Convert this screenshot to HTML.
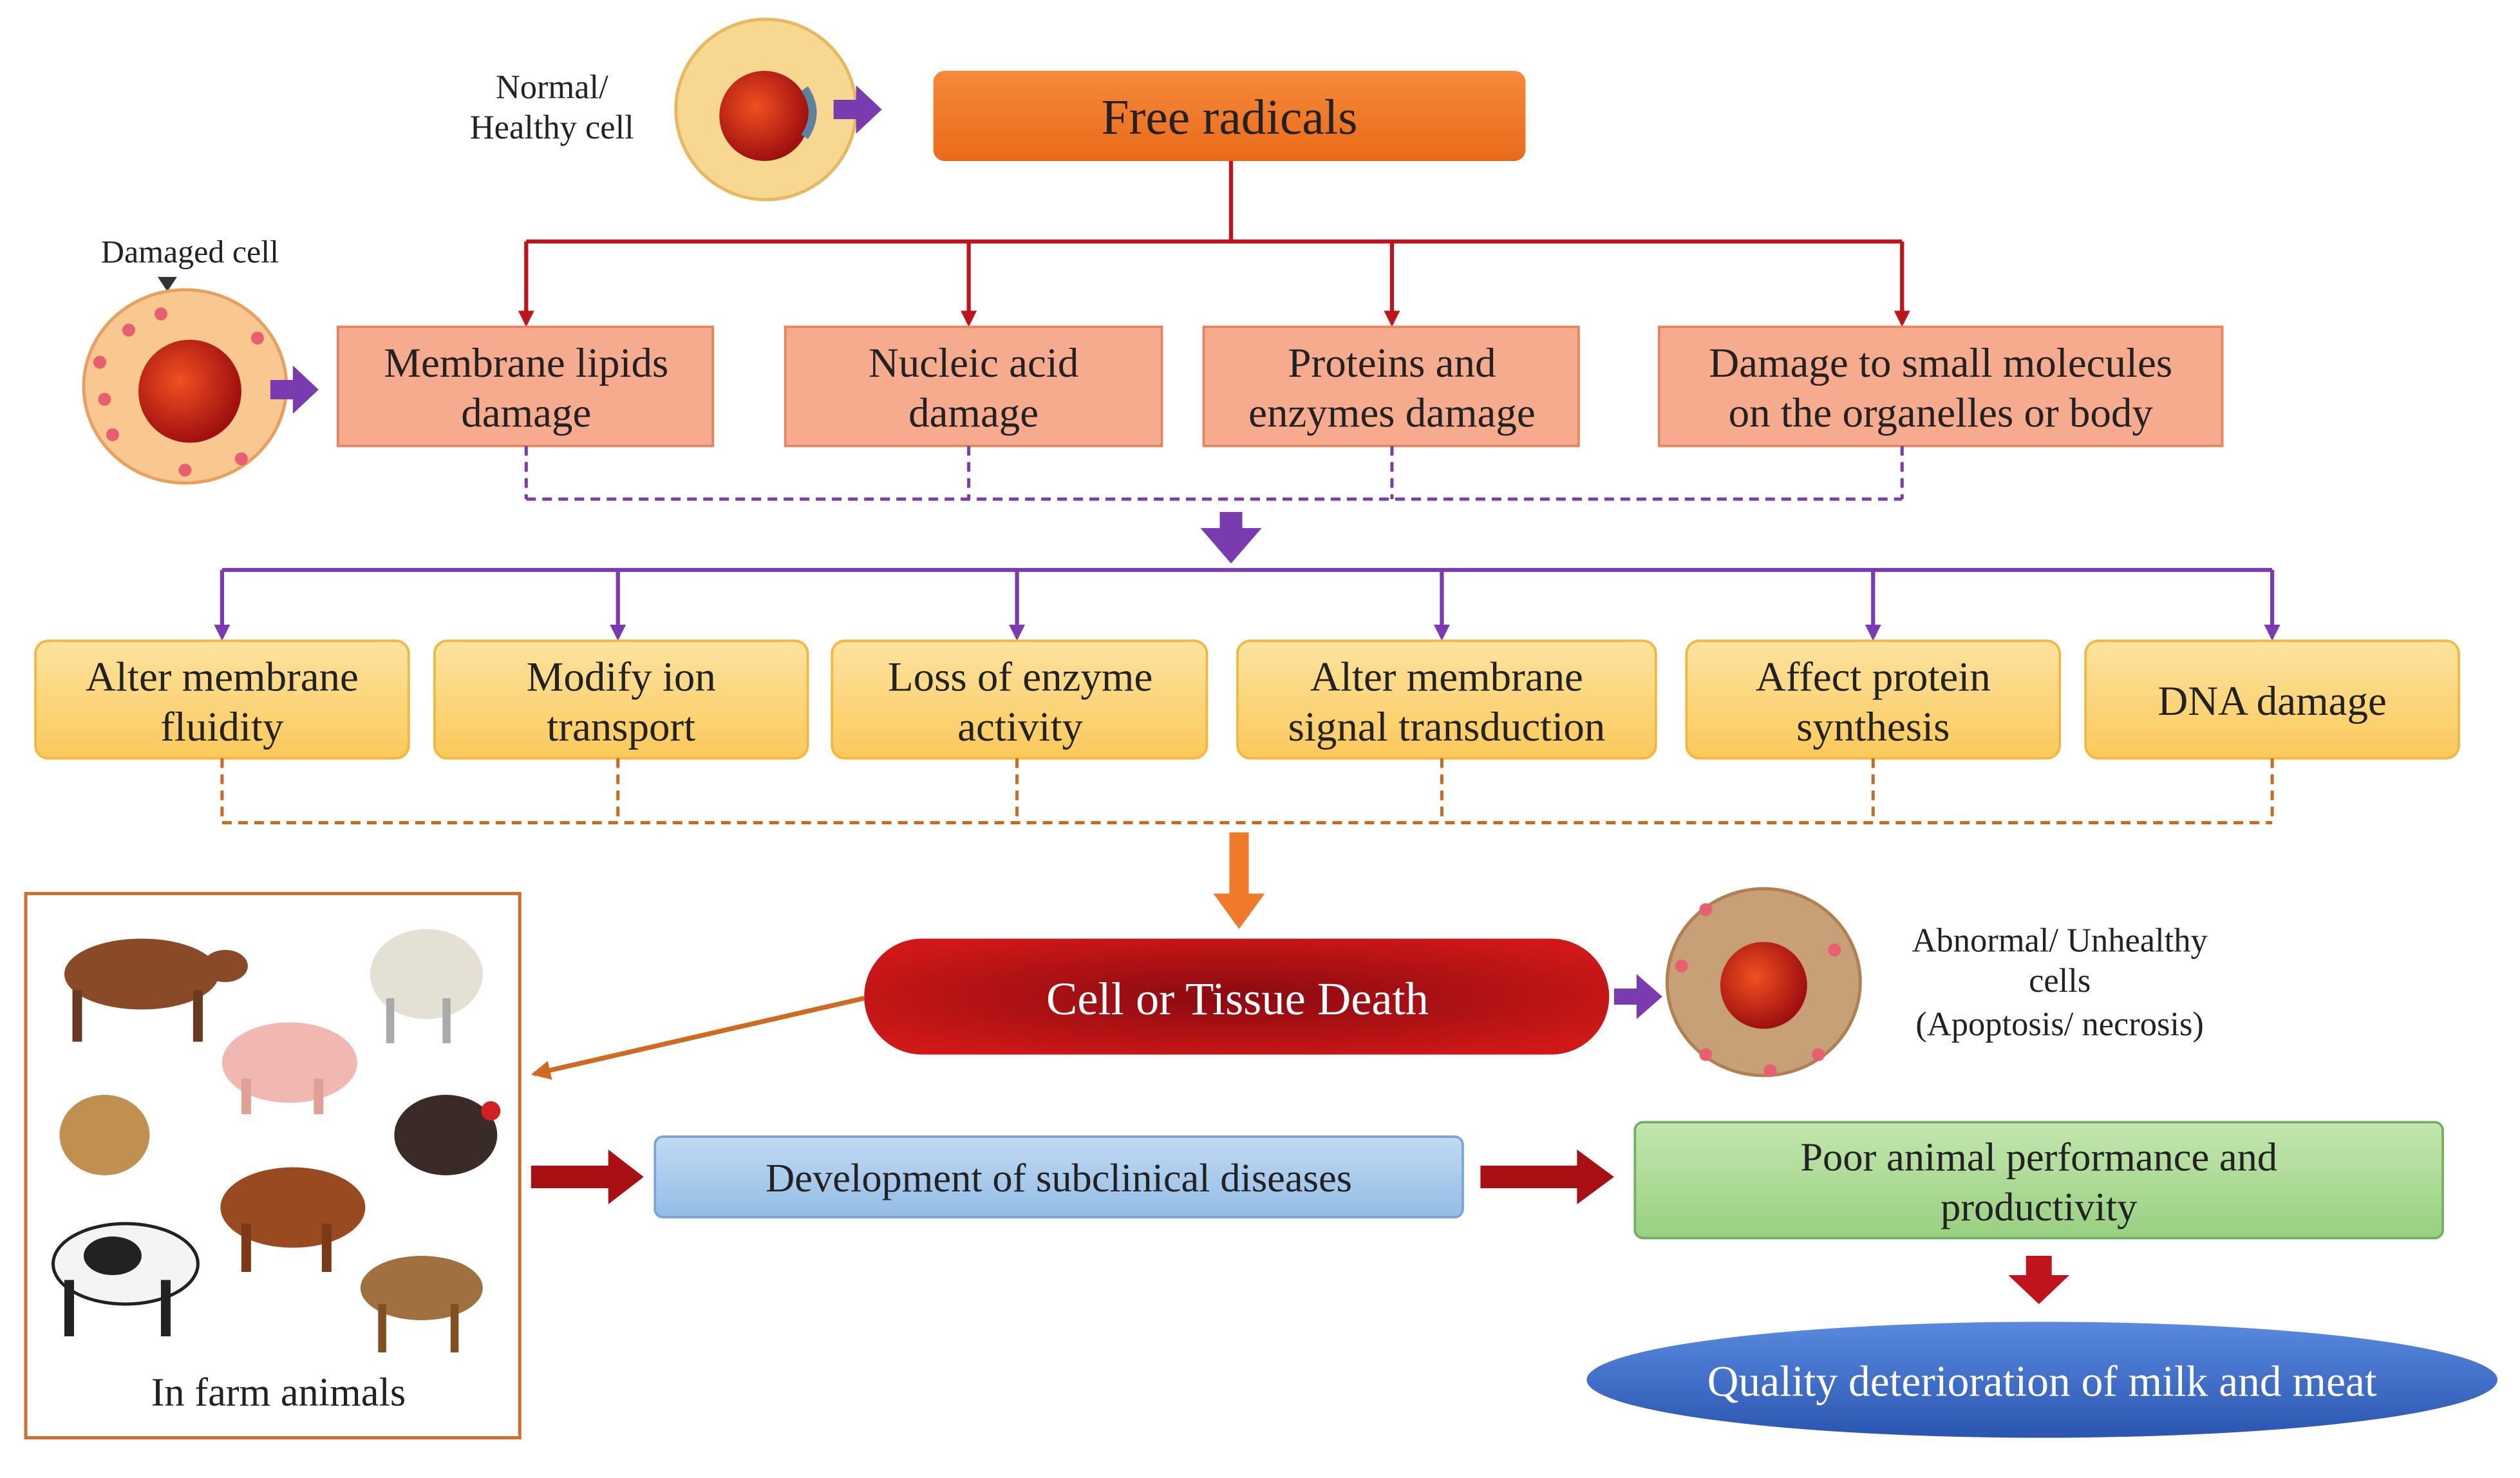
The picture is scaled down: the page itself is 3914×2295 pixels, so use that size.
<!DOCTYPE html>
<html><head><meta charset="utf-8"><style>
html,body{margin:0;padding:0;background:#fff;}
svg{display:block;}
text{font-family:"Liberation Serif",serif;fill:#222;}
</style></head><body>
<svg width="3914" height="2295" viewBox="0 0 1566 918" preserveAspectRatio="none" xmlns="http://www.w3.org/2000/svg">
<defs>
<linearGradient id="og" x1="0" y1="0" x2="0" y2="1"><stop offset="0" stop-color="#f58a3a"/><stop offset="1" stop-color="#ea6a1a"/></linearGradient>
<linearGradient id="yg" x1="0" y1="0" x2="0" y2="1"><stop offset="0" stop-color="#fde3a0"/><stop offset="1" stop-color="#fbc95a"/></linearGradient>
<radialGradient id="rg" cx="0.5" cy="0.5" r="0.6"><stop offset="0" stop-color="#8a0a10"/><stop offset="1" stop-color="#d01818"/></radialGradient>
<linearGradient id="bg" x1="0" y1="0" x2="0" y2="1"><stop offset="0" stop-color="#5a8ae0"/><stop offset="1" stop-color="#2a55b0"/></linearGradient>
<linearGradient id="gg" x1="0" y1="0" x2="0" y2="1"><stop offset="0" stop-color="#c4e6b0"/><stop offset="1" stop-color="#98d080"/></linearGradient>
<linearGradient id="blg" x1="0" y1="0" x2="0" y2="1"><stop offset="0" stop-color="#c2daf2"/><stop offset="1" stop-color="#94bce6"/></linearGradient>
<radialGradient id="nuc" cx="0.4" cy="0.4" r="0.6"><stop offset="0" stop-color="#f05020"/><stop offset="1" stop-color="#a01010"/></radialGradient>
<marker id="ar" markerWidth="10" markerHeight="10" refX="8" refY="5" orient="auto" markerUnits="userSpaceOnUse"><path d="M0,0 L10,5 L0,10 z" fill="#c0141c"/></marker>
<marker id="ap" markerWidth="10" markerHeight="10" refX="8" refY="5" orient="auto" markerUnits="userSpaceOnUse"><path d="M0,0 L10,5 L0,10 z" fill="#7a3ab0"/></marker>
<marker id="ao" markerWidth="12" markerHeight="12" refX="10" refY="6" orient="auto" markerUnits="userSpaceOnUse"><path d="M0,0 L12,6 L0,12 z" fill="#d06a20"/></marker>
</defs>

<text x="343" y="61" font-size="21" text-anchor="middle">Normal/</text>
<text x="343" y="86" font-size="21" text-anchor="middle">Healthy cell</text>
<ellipse cx="476" cy="68" rx="56" ry="56" fill="#f8d890" stroke="#e8b860" stroke-width="2"/>
<circle cx="475" cy="72" r="28" fill="url(#nuc)"/>
<path d="M500,55 q10,15 0,30" stroke="#6080a0" stroke-width="5" fill="none"/>
<path d="M518,62 h14 v-9 l16,15 l-16,15 v-9 h-14z" fill="#7a3ab0"/>

<rect x="580" y="44" width="368" height="56" rx="7" fill="url(#og)"/>
<text x="764" y="83" font-size="31" text-anchor="middle">Free radicals</text>
<g stroke="#c0141c" stroke-width="2.5" fill="none">
<path d="M765,100 V150"/><path d="M327,150 H1182"/>
<path d="M327,150 V201" marker-end="url(#ar)"/><path d="M602,150 V201" marker-end="url(#ar)"/>
<path d="M865,150 V201" marker-end="url(#ar)"/><path d="M1182,150 V201" marker-end="url(#ar)"/>
</g>

<text x="118" y="163" font-size="20" text-anchor="middle">Damaged cell</text>
<path d="M98,172 h12 l-6,9z" fill="#333"/>
<ellipse cx="115" cy="240" rx="63" ry="60" fill="#f8c890" stroke="#e8a060" stroke-width="2"/>
<circle cx="118" cy="243" r="32" fill="url(#nuc)"/>
<g fill="#e86070"><circle cx="62" cy="225" r="4"/><circle cx="70" cy="270" r="4"/><circle cx="100" cy="195" r="4"/><circle cx="160" cy="210" r="4"/><circle cx="150" cy="285" r="4"/><circle cx="115" cy="292" r="4"/><circle cx="80" cy="205" r="4"/><circle cx="65" cy="248" r="4"/></g>
<path d="M168,236 h14 v-9 l16,15 l-16,15 v-9 h-14z" fill="#7a3ab0"/>

<g fill="#f6ab8e" stroke="#e8845c" stroke-width="1.5">
<rect x="210" y="203" width="233" height="74"/><rect x="488" y="203" width="234" height="74"/>
<rect x="748" y="203" width="233" height="74"/><rect x="1031" y="203" width="350" height="74"/>
</g>
<g font-size="26" text-anchor="middle">
<text x="327" y="234">Membrane lipids</text><text x="327" y="265">damage</text>
<text x="605" y="234">Nucleic acid</text><text x="605" y="265">damage</text>
<text x="865" y="234">Proteins and</text><text x="865" y="265">enzymes damage</text>
<text x="1206" y="234">Damage to small molecules</text><text x="1206" y="265">on the organelles or body</text>
</g>
<g stroke="#7a3ab0" stroke-width="2" stroke-dasharray="6,4" fill="none">
<path d="M327,277 V310 M602,277 V310 M865,277 V310 M1182,277 V310 M327,310 H1182"/>
</g>
<path d="M758,318 h14 v10 h12 l-19,22 l-19,-22 h12z" fill="#7a3ab0"/>

<g stroke="#7a3ab0" stroke-width="2.5" fill="none">
<path d="M138,354 H1412"/>
<path d="M138,354 V396" marker-end="url(#ap)"/><path d="M384,354 V396" marker-end="url(#ap)"/>
<path d="M632,354 V396" marker-end="url(#ap)"/><path d="M896,354 V396" marker-end="url(#ap)"/>
<path d="M1164,354 V396" marker-end="url(#ap)"/><path d="M1412,354 V396" marker-end="url(#ap)"/>
</g>

<g fill="url(#yg)" stroke="#f0b840" stroke-width="1.5">
<rect x="22" y="398" width="232" height="73" rx="8"/><rect x="270" y="398" width="232" height="73" rx="8"/>
<rect x="517" y="398" width="233" height="73" rx="8"/><rect x="769" y="398" width="260" height="73" rx="8"/>
<rect x="1048" y="398" width="232" height="73" rx="8"/><rect x="1296" y="398" width="232" height="73" rx="8"/>
</g>
<g font-size="26" text-anchor="middle">
<text x="138" y="429">Alter membrane</text><text x="138" y="460">fluidity</text>
<text x="386" y="429">Modify ion</text><text x="386" y="460">transport</text>
<text x="634" y="429">Loss of enzyme</text><text x="634" y="460">activity</text>
<text x="899" y="429">Alter membrane</text><text x="899" y="460">signal transduction</text>
<text x="1164" y="429">Affect protein</text><text x="1164" y="460">synthesis</text>
<text x="1412" y="444">DNA damage</text>
</g>
<g stroke="#c86a20" stroke-width="2" stroke-dasharray="6,4" fill="none">
<path d="M138,471 V511 M384,471 V511 M632,471 V511 M896,471 V511 M1164,471 V511 M1412,471 V511 M138,511 H1412"/>
</g>
<path d="M764,517 h12 v38 h10 l-16,22 l-16,-22 h10z" fill="#f07a2a"/>

<rect x="537" y="583" width="463" height="72" rx="36" fill="url(#rg)"/>
<text x="769" y="630" font-size="29" text-anchor="middle" style="fill:#fff">Cell or Tissue Death</text>
<path d="M1003,614 h14 v-9 l16,14 l-16,14 v-9 h-14z" fill="#7a3ab0"/>
<ellipse cx="1096" cy="610" rx="60" ry="58" fill="#c8a078" stroke="#b08050" stroke-width="2"/>
<circle cx="1096" cy="612" r="27" fill="url(#nuc)"/>
<g fill="#e86070"><circle cx="1045" cy="600" r="4"/><circle cx="1060" cy="565" r="4"/><circle cx="1140" cy="590" r="4"/><circle cx="1130" cy="655" r="4"/><circle cx="1060" cy="655" r="4"/><circle cx="1100" cy="665" r="4"/></g>
<g font-size="21" text-anchor="middle">
<text x="1280" y="591">Abnormal/ Unhealthy</text><text x="1280" y="616">cells</text><text x="1280" y="643">(Apoptosis/ necrosis)</text>
</g>
<path d="M537,620 L332,667" stroke="#d06a20" stroke-width="3" marker-end="url(#ao)"/>

<rect x="16" y="555" width="307" height="338" fill="#fff" stroke="#d07030" stroke-width="2"/>
<g>
<ellipse cx="88" cy="605" rx="48" ry="22" fill="#8a4a28"/><rect x="45" y="615" width="6" height="32" fill="#6a3a20"/><rect x="120" y="615" width="6" height="32" fill="#6a3a20"/><ellipse cx="140" cy="600" rx="14" ry="10" fill="#8a4a28"/>
<ellipse cx="265" cy="605" rx="35" ry="28" fill="#e4e0d4"/><rect x="240" y="620" width="5" height="28" fill="#aaa"/><rect x="275" y="620" width="5" height="28" fill="#aaa"/>
<ellipse cx="180" cy="660" rx="42" ry="25" fill="#f0b8b0"/><rect x="150" y="670" width="6" height="22" fill="#e0a098"/><rect x="195" y="670" width="6" height="22" fill="#e0a098"/>
<ellipse cx="65" cy="705" rx="28" ry="25" fill="#c09050"/>
<ellipse cx="277" cy="705" rx="32" ry="25" fill="#3a2a28"/><circle cx="305" cy="690" r="6" fill="#d02020"/>
<ellipse cx="182" cy="750" rx="45" ry="25" fill="#9a4a20"/><rect x="150" y="760" width="6" height="30" fill="#7a3a18"/><rect x="200" y="760" width="6" height="30" fill="#7a3a18"/>
<ellipse cx="78" cy="785" rx="45" ry="25" fill="#f4f4f4" stroke="#222" stroke-width="2"/><ellipse cx="70" cy="780" rx="18" ry="12" fill="#222"/><rect x="40" y="795" width="6" height="35" fill="#222"/><rect x="100" y="795" width="6" height="35" fill="#222"/>
<ellipse cx="262" cy="800" rx="38" ry="20" fill="#a07040"/><rect x="235" y="810" width="5" height="30" fill="#805020"/><rect x="280" y="810" width="5" height="30" fill="#805020"/>
</g>
<text x="173" y="873" font-size="25" text-anchor="middle">In farm animals</text>

<path d="M330,724 h48 v-10 l22,17 l-22,17 v-10 h-48z" fill="#a81014"/>
<rect x="407" y="706" width="502" height="50" rx="5" fill="url(#blg)" stroke="#7aa4d8" stroke-width="1.5"/>
<text x="658" y="740" font-size="25" text-anchor="middle">Development of subclinical diseases</text>
<path d="M920,724 h60 v-10 l23,17 l-23,17 v-10 h-60z" fill="#a81014"/>
<rect x="1016" y="697" width="502" height="72" rx="5" fill="url(#gg)" stroke="#70b060" stroke-width="1.5"/>
<text x="1267" y="727" font-size="25" text-anchor="middle">Poor animal performance and</text>
<text x="1267" y="758" font-size="25" text-anchor="middle">productivity</text>
<path d="M1259,780 h16 v12 h11 l-19,18 l-19,-18 h11z" fill="#c0141c"/>
<ellipse cx="1269" cy="857" rx="283" ry="36" fill="url(#bg)"/>
<text x="1269" y="867" font-size="27" text-anchor="middle" style="fill:#fff">Quality deterioration of milk and meat</text>
</svg>
</body></html>
